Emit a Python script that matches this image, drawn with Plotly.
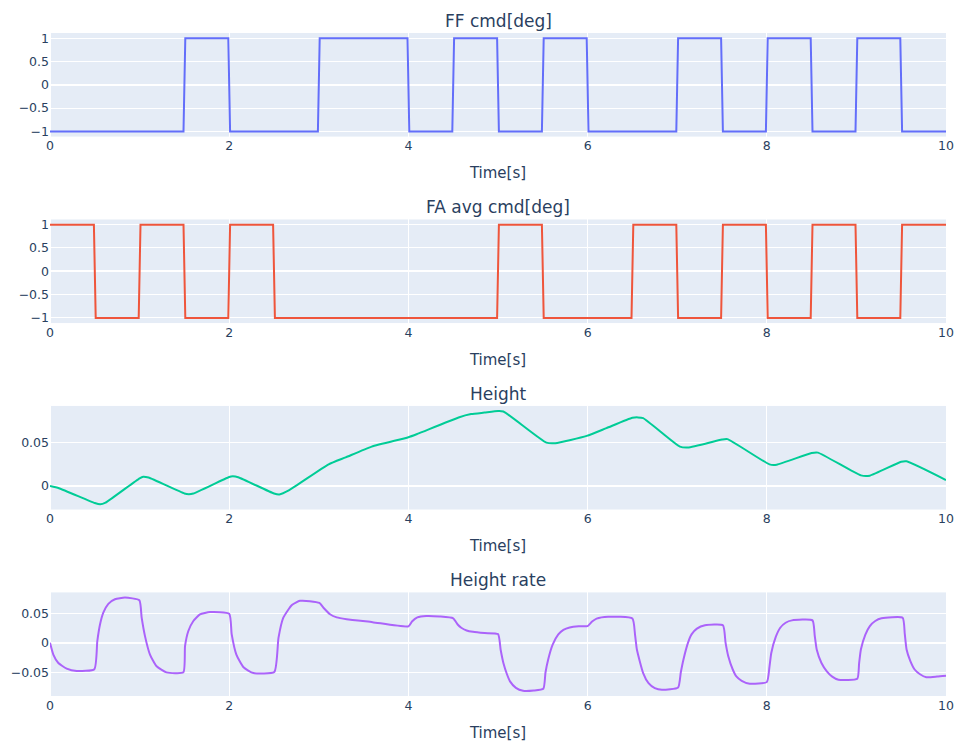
import plotly.graph_objects as go
from plotly.subplots import make_subplots

# FF command (square wave), time / value at switching points
ff_t = [0, 1.49, 1.51, 1.99, 2.01, 2.99, 3.01, 3.99, 4.01, 4.49, 4.51, 4.99, 5.01, 5.49, 5.51,
        5.99, 6.01, 6.99, 7.01, 7.49, 7.51, 7.99, 8.01, 8.49, 8.51, 8.99, 9.01, 9.49, 9.51, 10]
ff_v = [-1, -1, 1, 1, -1, -1, 1, 1, -1, -1, 1, 1, -1, -1, 1,
        1, -1, -1, 1, 1, -1, -1, 1, 1, -1, -1, 1, 1, -1, -1]

# FA avg command
fa_t = [0, 0.49, 0.51, 0.99, 1.01, 1.49, 1.51, 1.99, 2.01, 2.49, 2.51, 4.99, 5.01, 5.49, 5.51,
        6.49, 6.51, 6.99, 7.01, 7.49, 7.51, 7.99, 8.01, 8.49, 8.51, 8.99, 9.01, 9.49, 9.51, 10]
fa_v = [1, 1, -1, -1, 1, 1, -1, -1, 1, 1, -1, -1, 1, 1, -1,
        -1, 1, 1, -1, -1, 1, 1, -1, -1, 1, 1, -1, -1, 1, 1]

# Height
h_t = [0, 0.1, 0.5, 0.56, 0.62, 1.0, 1.04, 1.1, 1.5, 1.55, 1.6, 2.0, 2.04, 2.1, 2.5, 2.56, 2.67,
       3.11, 3.3, 3.59, 4.0, 4.1, 4.56, 4.7, 4.85, 5.0, 5.06, 5.54, 5.64, 5.99, 6.21, 6.5, 6.56,
       6.62, 7.03, 7.12, 7.5, 7.56, 8.03, 8.11, 8.5, 8.57, 9.05, 9.15, 9.5, 9.56, 10.0]
h_v = [0, -0.0025, -0.0195, -0.021, -0.019, 0.009, 0.0108, 0.0098, -0.0085, -0.0093, -0.0085,
       0.0105, 0.0112, 0.0102, -0.0085, -0.0096, -0.0046, 0.025, 0.033, 0.0454, 0.0562, 0.060,
       0.0789, 0.0828, 0.0845, 0.0862, 0.0858, 0.050, 0.0493, 0.0577, 0.0666, 0.0785, 0.079,
       0.0782, 0.0454, 0.0443, 0.0535, 0.054, 0.025, 0.0246, 0.038, 0.0385, 0.0123, 0.012, 0.028,
       0.0285, 0.0069]

# Height rate
r_t = [0, 0.037, 0.093, 0.186, 0.298, 0.495,
       0.528, 0.558, 0.595, 0.651, 0.725, 0.837, 0.997,
       1.023, 1.06, 1.116, 1.19, 1.30, 1.488,
       1.507, 1.544, 1.6, 1.674, 1.786, 2.0,
       2.028, 2.08, 2.16, 2.27, 2.503,
       2.55, 2.604, 2.70, 2.79, 2.9, 3.006,
       3.06, 3.125, 3.2, 3.31, 3.6, 4.0,
       4.04, 4.1, 4.2, 4.35, 4.5,
       4.55, 4.59, 4.65, 4.72, 4.85, 5.0,
       5.03, 5.06, 5.1, 5.134, 5.2, 5.28, 5.4, 5.506,
       5.53, 5.56, 5.61, 5.673, 5.73, 5.8, 5.9, 6.0,
       6.05, 6.1, 6.23, 6.5,
       6.53, 6.55, 6.62, 6.68, 6.75, 6.83, 7.01,
       7.04, 7.07, 7.12, 7.16, 7.22, 7.31, 7.51,
       7.54, 7.57, 7.62, 7.66, 7.72, 7.81, 8.0,
       8.03, 8.05, 8.1, 8.15, 8.21, 8.28, 8.51,
       8.535, 8.557, 8.61, 8.67, 8.73, 8.8, 9.01,
       9.03, 9.05, 9.1, 9.15, 9.21, 9.28, 9.516,
       9.54, 9.56, 9.6, 9.65, 9.71, 9.78, 9.9, 10.0]
r_v = [0, -0.0198, -0.034, -0.0436, -0.0476, -0.0445,
       0.003, 0.031, 0.051, 0.066, 0.0737, 0.0765, 0.072,
       0.0425, 0.0114, -0.0198, -0.0396, -0.0498, -0.0498,
       -0.0056, 0.020, 0.037, 0.048, 0.052, 0.0493,
       0.0143, -0.0198, -0.0413, -0.051, -0.0493,
       0.0085, 0.0425, 0.064, 0.071, 0.0705, 0.0675,
       0.058, 0.0483, 0.043, 0.040, 0.035, 0.0279,
       0.036, 0.043, 0.0454, 0.0445, 0.0415,
       0.031, 0.0255, 0.021, 0.0187, 0.0165, 0.0148,
       -0.012, -0.034, -0.053, -0.065, -0.076, -0.081, -0.0805, -0.0776,
       -0.05, -0.028, -0.003, 0.0143, 0.022, 0.026, 0.028, 0.0284,
       0.036, 0.041, 0.0442, 0.041,
       0.013, -0.0113, -0.051, -0.068, -0.0765, -0.0793, -0.0753,
       -0.05, -0.028, 0.0, 0.0143, 0.024, 0.0296, 0.0296,
       0.0, -0.0226, -0.045, -0.0566, -0.064, -0.069, -0.0663,
       -0.04, -0.017, 0.01, 0.0255, 0.034, 0.038, 0.038,
       0.012, -0.0113, -0.034, -0.048, -0.057, -0.0623, -0.0606,
       -0.035, -0.0113, 0.014, 0.0284, 0.037, 0.0415, 0.0425,
       0.015, -0.0113, -0.03, -0.045, -0.053, -0.058, -0.057, -0.0555]

titles = ["FF cmd[deg]", "FA avg cmd[deg]", "Height", "Height rate"]
x_title = "Time[s]"
colors = ["#636efa", "#EF553B", "#00cc96", "#ab63fa"]

fig = make_subplots(rows=4, cols=1, subplot_titles=titles, vertical_spacing=0.125)
series = [(ff_t, ff_v, "linear"), (fa_t, fa_v, "linear"), (h_t, h_v, "spline"), (r_t, r_v, "spline")]
for i, (t, v, shp) in enumerate(series):
    line = dict(color=colors[i], width=2, shape=shp)
    if shp == "spline":
        line["smoothing"] = 0.5
    fig.add_trace(go.Scatter(x=t, y=v, mode="lines", line=line, showlegend=False),
                  row=i + 1, col=1)
    fig.update_xaxes(title_text=x_title, title_font_size=15, range=[0, 10],
                     ticklabeloverflow="allow", row=i + 1, col=1)

fig.update_annotations(font_size=17)
fig.update_layout(template="plotly", width=957, height=742,
                  margin=dict(l=50, r=11, t=33, b=46, autoexpand=False),
                  font=dict(family="DejaVu Sans, Verdana, sans-serif", size=12.5))
fig.write_html("out.html", config={"displayModeBar": False},
               post_script="document.body.style.margin='0';document.body.style.overflow='hidden';")
